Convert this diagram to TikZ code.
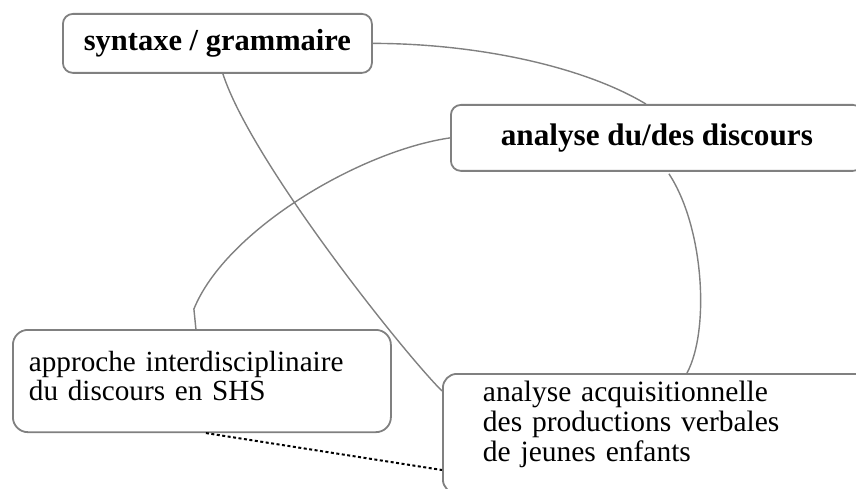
\documentclass[tikz,border=0pt]{standalone}
\usepackage{fontspec}
\setmainfont{Liberation Serif}
\usepackage{tikz}
\usetikzlibrary{positioning}

\begin{document}
\begin{tikzpicture}[x=1pt,y=-1pt,
  topic/.style={draw=gray, line width=1.8pt, rounded corners=10pt, fill=white,
    font=\bfseries\fontsize{30.5}{34}\selectfont, inner sep=0pt, anchor=north west},
  note/.style={draw=gray, line width=1.8pt, rounded corners=14pt, fill=white,
    align=left, anchor=north west},
  link/.style={draw=gray, line width=1.4pt},
  weak/.style={draw=black, line width=2pt, dash pattern=on 3pt off 2.5pt}]

  \useasboundingbox (0,0) rectangle (856,489);
  \clip (0,0) rectangle (856,489);

  \node[topic, minimum width=309pt, minimum height=59pt] (syntaxe) at (62,13) {syntaxe / grammaire};
  \node[topic, minimum width=412pt, minimum height=66pt,
    font=\bfseries\fontsize{31.2}{34}\selectfont] (discours) at (450,104) {analyse du/des discours};
  \node[note, text width=346pt, inner xsep=16pt, inner ysep=21pt, text depth=40pt, rounded corners=15pt,
    font=\fontsize{29.2}{29}\selectfont] (approche) at (12,329) {approche interdisciplinaire\\du discours en SHS};
  \node[note, text width=358pt, inner xsep=40pt, inner ysep=7pt, text depth=85pt,
    font=\fontsize{29.5}{30}\selectfont] (acquisition) at (442,373) {analyse acquisitionnelle\\des productions verbales\\de jeunes enfants};

  \coordinate (kink) at ([xshift=-8pt,yshift=20pt]approche.north);

  \draw[link] (syntaxe.east) .. controls +(100,0) and +(-65,-39) .. ([xshift=-11pt]discours.north);
  \draw[link] ([xshift=5.5pt]syntaxe.south) .. controls +(28,87) and +(-40,-40) .. ([yshift=-18pt]acquisition.north west);
  \draw[link] (discours.west) .. controls +(-90,13) and +(32,-79) .. (kink) -- ([xshift=-6pt]approche.north);
  \draw[link] ([xshift=12pt,yshift=-2pt]discours.south) .. controls +(35,53) and +(23,-43) .. ([xshift=245pt]acquisition.north west);
  \draw[weak] ([xshift=4pt]approche.south) -- ([yshift=-97pt]acquisition.north west);
\end{tikzpicture}
\end{document}
